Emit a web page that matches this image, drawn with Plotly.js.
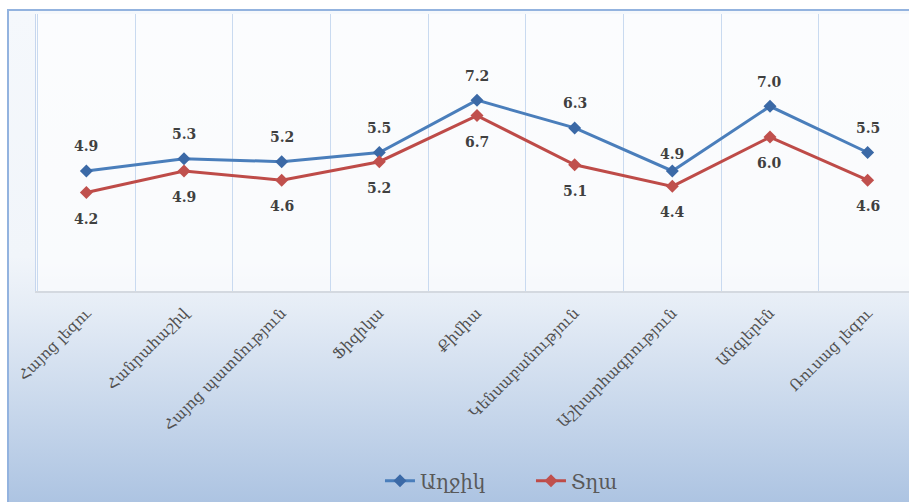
<!DOCTYPE html>
<html>
<head>
<meta charset="utf-8">
<script src="https://cdn.plot.ly/plotly-3.0.1.min.js"></script>
<style>
  html, body { margin:0; padding:0; width:909px; height:502px; overflow:hidden; background:#ffffff; }
  #frame { position:absolute; left:7px; top:9px; width:1000px; height:491px;
           border:2px solid #93b3df;
           background: linear-gradient(to bottom, #f5f8fc 0%, #f1f5fa 50%, #e6edf6 60%, #adc4e2 100%); }
  #chart { position:absolute; left:0; top:0; width:930px; height:502px; }
</style>
</head>
<body>
<div id="frame"></div>
<div id="chart"></div>
<script>
const categories = ["Հայոց լեզու", "Հանրահաշիվ", "Հայոց պատմություն", "Ֆիզիկա", "Քիմիա",
                    "Կենսաբանություն", "Աշխարհագրություն", "Անգլերեն", "Ռուսաց լեզու"];
const girls = [4.9, 5.3, 5.2, 5.5, 7.2, 6.3, 4.9, 7.0, 5.5];
const boys  = [4.2, 4.9, 4.6, 5.2, 6.7, 5.1, 4.4, 6.0, 4.6];
const seriesNames = ["Աղջիկ", "Տղա"];

const blue = "#4a7ebb", blueMarker = "#3b69a6";
const red = "#be4b48", redMarker = "#c0504d";

const traces = [
  { x: categories, y: girls, name: seriesNames[0], type: "scatter", mode: "lines+markers",
    line: { color: blue, width: 3 }, marker: { symbol: "diamond", size: 10, color: blueMarker } },
  { x: categories, y: boys, name: seriesNames[1], type: "scatter", mode: "lines+markers",
    line: { color: red, width: 3 }, marker: { symbol: "diamond", size: 10, color: redMarker } }
];

const labelFont = { family: "DejaVu Serif", size: 14, color: "#404040", weight: "bold" };
const annotations = [];
girls.forEach((v, i) => {
  annotations.push({ x: categories[i], y: v, text: "<b>" + v.toFixed(1) + "</b>", showarrow: false,
    yshift: (i === 6 ? 17 : 24.5), font: labelFont });
});
boys.forEach((v, i) => {
  annotations.push({ x: categories[i], y: v, text: "<b>" + v.toFixed(1) + "</b>", showarrow: false,
    yshift: -26, font: labelFont });
});

const layout = {
  width: 930, height: 502,
  margin: { l: 36, r: 12, t: 14, b: 211, autoexpand: false },
  paper_bgcolor: "rgba(0,0,0,0)",
  plot_bgcolor: "rgba(255,255,255,0.6)",
  showlegend: true,
  legend: { orientation: "h", x: 0.39, xanchor: "left", y: -0.685, yanchor: "middle",
            itemwidth: 30, entrywidth: 106, tracegroupgap: 0,
            font: { family: "DejaVu Serif", size: 20, color: "#595959" }, bgcolor: "rgba(0,0,0,0)" },
  xaxis: { type: "category", tickson: "boundaries", showgrid: true, gridcolor: "#c9daf0", gridwidth: 1,
           showline: true, linecolor: "#d4d9e0", linewidth: 1.5, ticks: "", tickangle: -45,
           ticklabelstandoff: 6,
           tickfont: { family: "DejaVu Serif", size: 15, color: "#505050" }, automargin: false },
  yaxis: { range: [1, 10], showgrid: false, showticklabels: false, zeroline: false,
           showline: true, linecolor: "#c6d6ee", linewidth: 1.5, ticks: "" },
  annotations: annotations
};

Plotly.newPlot("chart", traces, layout, { displayModeBar: false, staticPlot: true });
</script>
</body>
</html>
